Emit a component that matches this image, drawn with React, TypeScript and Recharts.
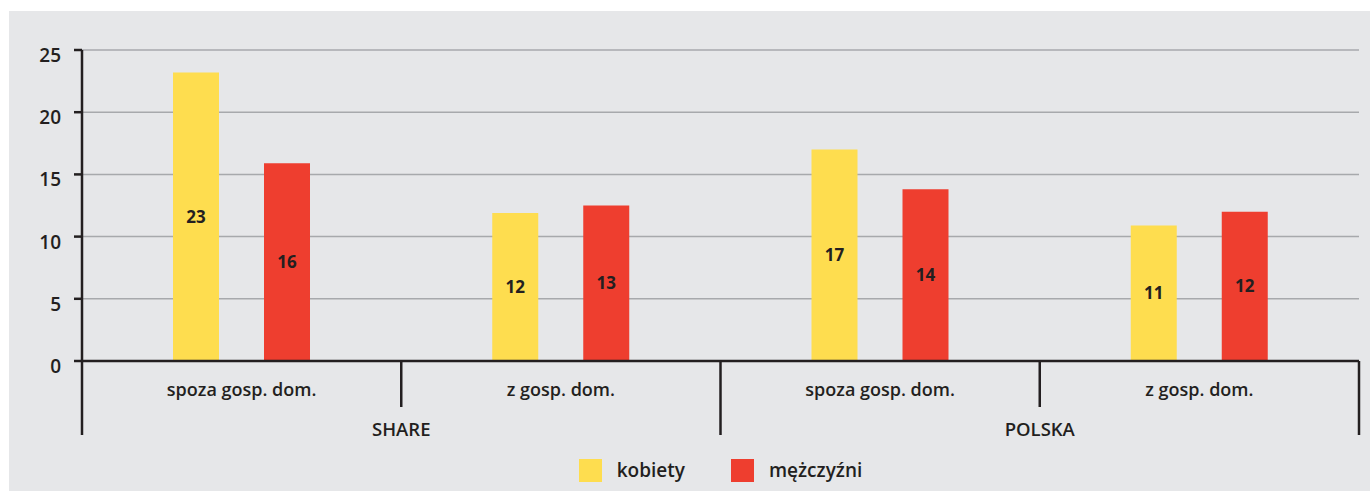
import React from 'react'
import { BarChart, Bar, XAxis, YAxis, CartesianGrid, Legend, LabelList } from 'recharts'

const categories = ['spoza gosp. dom.', 'z gosp. dom.', 'spoza gosp. dom.', 'z gosp. dom.']
const groups = ['SHARE', 'SHARE', 'POLSKA', 'POLSKA']
const kobiety = [23.2, 11.9, 17.0, 10.9]
const mezczyzni = [15.9, 12.5, 13.8, 12.0]
const yTicks = [0, 5, 10, 15, 20, 25]

const data = categories.map((c, i) => ({
  cat: c,
  group: groups[i],
  kobiety: kobiety[i],
  mezczyzni: mezczyzni[i],
}))

const FONT = '"Open Sans", sans-serif'
const INK = '#231f20'
const YELLOW = '#fedd4f'
const RED = '#ee3e2f'

const CatTick = (props: any) => {
  const { x, y, width, index, payload } = props
  const band = width / categories.length
  const left = x - band / 2
  const longLine = index % 2 === 0
  return (
    <g>
      <line x1={left} x2={left} y1={y} y2={y + 74} stroke={INK} strokeWidth={2.5} display={longLine ? undefined : 'none'} />
      {!longLine && <line x1={left} x2={left} y1={y} y2={y + 46} stroke={INK} strokeWidth={2.5} />}
      {index === categories.length - 1 && (
        <line x1={x + band / 2} x2={x + band / 2} y1={y} y2={y + 74} stroke={INK} strokeWidth={2.5} />
      )}
      <text x={x} y={y + 35} textAnchor="middle" fill={INK} fontFamily={FONT} fontWeight={600} fontSize={18}>
        {payload.value}
      </text>
      {longLine && (
        <text x={x + band / 2} y={y + 75} textAnchor="middle" fill={INK} fontFamily={FONT} fontWeight={600} fontSize={18.5}>
          {groups[index]}
        </text>
      )}
    </g>
  )
}

const ValTick = (props: any) => {
  const { x, y, payload } = props
  return (
    <text x={x} y={y + 12} textAnchor="end" fill={INK} fontFamily={FONT} fontWeight={600} fontSize={19}>
      {payload.value}
    </text>
  )
}

const LegendBox = () => (
  <div style={{ display: 'flex', justifyContent: 'center', alignItems: 'center', fontFamily: FONT, fontWeight: 600, fontSize: 19, color: INK }}>
    <span style={{ width: 23, height: 23, background: YELLOW, display: 'inline-block', marginRight: 15 }} />
    <span style={{ marginRight: 46 }}>kobiety</span>
    <span style={{ width: 23, height: 23, background: RED, display: 'inline-block', marginRight: 15 }} />
    <span>mężczyźni</span>
  </div>
)

export default function App() {
  return (
    <div style={{ position: 'absolute', left: 9, top: 11, width: 1361, height: 480, background: '#e6e7e9' }}>
      <BarChart width={1361} height={480} data={data} margin={{ top: 39, right: 11, left: 0, bottom: 129 }} barSize={46} barGap={45}>
        <CartesianGrid vertical={false} stroke="#a7a9ac" strokeWidth={1.5} />
        <XAxis dataKey="cat" tickLine={false} tickSize={0} tickMargin={0} axisLine={{ stroke: INK, strokeWidth: 2.5 }} tick={<CatTick />} interval={0} height={1} />
        <YAxis domain={[0, 25]} ticks={yTicks} width={73} tickSize={8} tickMargin={13} tickLine={{ stroke: INK, strokeWidth: 2.5 }} axisLine={{ stroke: INK, strokeWidth: 2.5 }} tick={<ValTick />} />
        <Legend layout="horizontal" verticalAlign="middle" align="center" content={<LegendBox />} wrapperStyle={{ top: 446, left: 73, width: 1277 }} />
        <Bar dataKey="kobiety" fill={YELLOW} isAnimationActive={false}>
          <LabelList dataKey="kobiety" position="center" formatter={(v: any) => Math.round(v)} fill={INK} fontFamily={FONT} fontWeight={700} fontSize={17} />
        </Bar>
        <Bar dataKey="mezczyzni" fill={RED} isAnimationActive={false}>
          <LabelList dataKey="mezczyzni" position="center" formatter={(v: any) => Math.round(v)} fill={INK} fontFamily={FONT} fontWeight={700} fontSize={17} />
        </Bar>
      </BarChart>
    </div>
  )
}
